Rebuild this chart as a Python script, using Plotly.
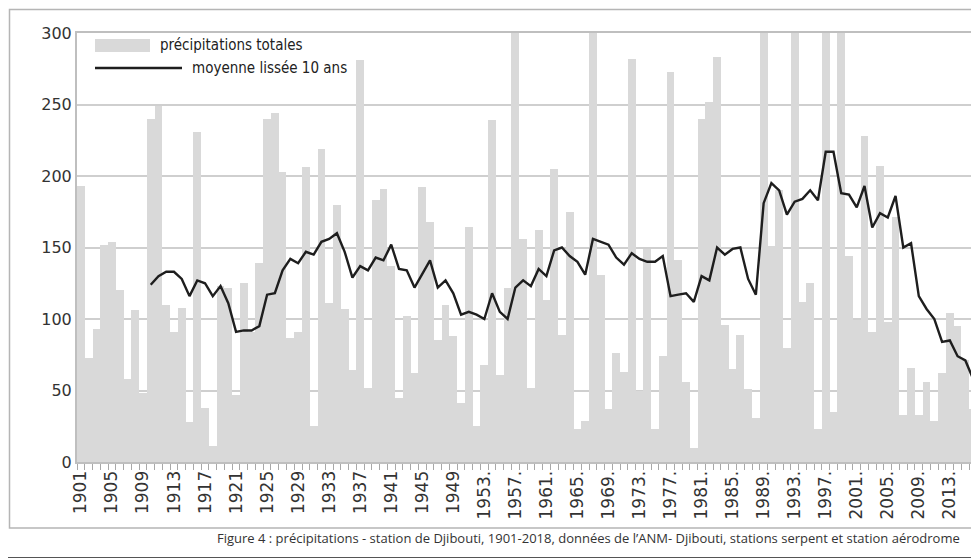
import plotly.graph_objects as go

# ---------------- data ----------------
years = list(range(1901, 2017))
precip = [
    193, 73, 93, 152, 154, 120, 58, 106, 48,            # 1901-1909
    240, 249, 110, 91, 108, 28, 231, 38, 11, 123,       # 1910-1919
    122, 47, 125, 91, 139, 240, 244, 203, 87, 91,       # 1920-1929
    206, 25, 219, 111, 180, 107, 64, 281, 52, 183,      # 1930-1939
    191, 137, 45, 102, 62, 192, 168, 85, 110, 88,       # 1940-1949
    41, 164, 25, 68, 239, 61, 122, 305, 156, 52,        # 1950-1959
    162, 113, 205, 89, 175, 23, 29, 558, 131, 37,       # 1960-1969
    76, 63, 282, 50, 149, 23, 74, 273, 141, 56,         # 1970-1979
    10, 240, 252, 283, 96, 65, 89, 51, 31, 696,         # 1980-1989
    151, 190, 80, 375, 112, 125, 23, 391, 35, 402,      # 1990-1999
    144, 99, 228, 91, 207, 98, 171, 33, 66, 33,         # 2000-2009
    56, 29, 62, 104, 95, 71, 37,                        # 2010-2016
]
ma_years = list(range(1910, 2017))
moving_avg = [
    124, 130, 133, 133, 128, 116, 127, 125, 116, 123,   # 1910-1919
    111, 91, 92, 92, 95, 117, 118, 134, 142, 139,       # 1920-1929
    147, 145, 154, 156, 160, 147, 129, 137, 134, 143,   # 1930-1939
    141, 152, 135, 134, 122, 131, 141, 122, 127, 118,   # 1940-1949
    103, 105, 103, 100, 118, 105, 100, 122, 127, 123,   # 1950-1959
    135, 130, 148, 150, 144, 140, 131, 156, 154, 152,   # 1960-1969
    143, 138, 146, 142, 140, 140, 144, 116, 117, 118,   # 1970-1979
    112, 130, 127, 150, 145, 149, 150, 128, 117, 181,   # 1980-1989
    195, 190, 173, 182, 184, 190, 183, 217, 217, 188,   # 1990-1999
    187, 178, 193, 164, 174, 171, 186, 150, 153, 116,   # 2000-2009
    107, 100, 84, 85, 74, 71, 58,                       # 2010-2016
]
tick_years = list(range(1901, 2014, 4))
tick_text = [str(y) if y < 1953 else f"{y}." for y in tick_years]
y_ticks = [0, 50, 100, 150, 200, 250, 300]

series_names = ["précipitations totales", "moyenne lissée 10 ans"]
caption = ("Figure 4 : précipitations - station de Djibouti, 1901-2018, données de l’ANM- "
           "Djibouti, stations serpent et station aérodrome")

# ---------------- layout helpers ----------------
# The page body has an 8px default margin, so the figure is 8px smaller
# and all reference pixel positions are shifted by OFF.
OFF = 8
W, H = 979 - OFF, 558 - OFF
L, T = 77 - OFF, 33 - OFF
R = W - (977 - OFF)
B = H - (462 - OFF)
PW, PH = W - L - R, H - T - B


def px(x):
    """reference page x (px) -> paper x"""
    return (x - OFF - L) / PW


def py(y):
    """reference page y (px) -> paper y"""
    return (H - B - (y - OFF)) / PH


BAR_COLOR = "#d9d9d9"
LINE_COLOR = "#1e1e1e"
GRID = "#cfcfcf"

fig = go.Figure()
fig.add_trace(go.Bar(
    x=years, y=precip, name=series_names[0],
    marker=dict(color=BAR_COLOR, line=dict(width=0)),
    showlegend=False,
))
fig.add_trace(go.Scatter(
    x=ma_years, y=moving_avg, name=series_names[1], mode="lines",
    line=dict(color=LINE_COLOR, width=2.4),
    showlegend=False,
))

fig.update_layout(
    width=W, height=H,
    margin=dict(l=L, r=R, t=T, b=B, pad=0),
    paper_bgcolor="white", plot_bgcolor="white",
    bargap=0, showlegend=False,
    font=dict(family="DejaVu Sans", color="#333333"),
    xaxis=dict(
        range=[1900.5, 2016.5], tickmode="array", tickvals=tick_years, ticktext=tick_text,
        tickangle=-90, ticks="", showgrid=False, zeroline=False, automargin=False,
        showline=True, linecolor="#bfbfbf", linewidth=2, mirror=True,
        tickfont=dict(family="DejaVu Sans", size=17, color="#333333"),
        minor=dict(ticks="outside", tick0=1900.5, dtick=1, ticklen=6,
                   tickcolor="#a8a8a8", tickwidth=1, showgrid=False),
    ),
    yaxis=dict(
        range=[0, 300], tickmode="array", tickvals=y_ticks, automargin=False,
        showgrid=True, gridcolor=GRID, gridwidth=2, zeroline=False,
        showline=True, linecolor="#bfbfbf", linewidth=2, mirror=True, ticks="",
        tickfont=dict(family="DejaVu Sans", size=16, color="#333333"),
    ),
)

# manual legend (wide swatches as in the original)
legend_font = dict(family="Liberation Sans Narrow, DejaVu Sans Condensed, Roboto, sans-serif",
                   size=15, color="#222222")
fig.add_shape(type="rect", xref="paper", yref="paper",
              x0=px(95), x1=px(150), y0=py(52), y1=py(39),
              fillcolor=BAR_COLOR, line=dict(width=0))
fig.add_annotation(xref="paper", yref="paper", x=px(158), y=py(45.5),
                   text=series_names[0], showarrow=False, xanchor="left", yanchor="middle",
                   font=legend_font)
fig.add_shape(type="line", xref="paper", yref="paper",
              x0=px(95), x1=px(182), y0=py(68), y1=py(68),
              line=dict(color=LINE_COLOR, width=2.6))
fig.add_annotation(xref="paper", yref="paper", x=px(190), y=py(68),
                   text=series_names[1], showarrow=False, xanchor="left", yanchor="middle",
                   font=legend_font)

# chart frame and outer border (right / bottom edges)
fig.add_shape(type="rect", xref="paper", yref="paper",
              x0=px(9.5), x1=px(977), y0=py(528), y1=py(9.5),
              line=dict(color="#b5b5b5", width=1.5), fillcolor="rgba(0,0,0,0)", layer="below")
fig.add_shape(type="line", xref="paper", yref="paper",
              x0=px(978.5), x1=px(978.5), y0=py(557.5), y1=py(8),
              line=dict(color="#555555", width=1))
fig.add_shape(type="line", xref="paper", yref="paper",
              x0=px(8), x1=px(978.5), y0=py(557.5), y1=py(557.5),
              line=dict(color="#555555", width=1))

# caption
fig.add_annotation(xref="paper", yref="paper", x=px(215), y=py(538),
                   text=caption, showarrow=False, xanchor="left", yanchor="middle",
                   font=dict(family="Open Sans, DejaVu Sans, sans-serif", size=13, color="#333333"))

fig.write_html("out.html")
